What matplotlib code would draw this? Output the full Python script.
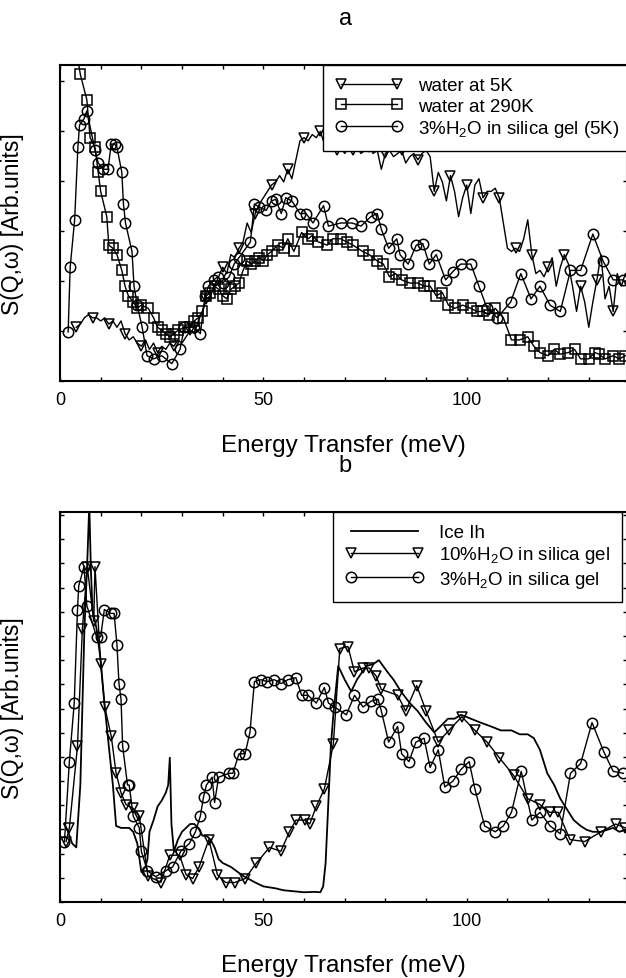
import matplotlib
matplotlib.use('Agg')
import matplotlib.pyplot as plt
from matplotlib.ticker import MultipleLocator, NullFormatter

plt.rcParams['font.family'] = ['Liberation Sans', 'DejaVu Sans']
plt.rcParams['mathtext.fontset'] = 'custom'
plt.rcParams['mathtext.rm'] = 'Liberation Sans'
plt.rcParams['mathtext.it'] = 'Liberation Sans:italic'

# ---- panel a data (arbitrary units, 0 = bottom of axes, 1 = top) ----
w5_E = list(range(4, 141))
w5_S = [0.17, 0.18, 0.20, 0.21, 0.20, 0.20, 0.19, 0.20, 0.18, 0.19, 0.17, 0.19, 0.15, 0.13,
        0.14, 0.12, 0.11, 0.13, 0.10, 0.12, 0.09, 0.11, 0.10, 0.12, 0.11, 0.13, 0.12, 0.14,
        0.16, 0.15, 0.19, 0.22, 0.26, 0.27, 0.30, 0.33, 0.36, 0.34, 0.40, 0.39, 0.42, 0.44,
        0.50, 0.47, 0.53, 0.56, 0.58, 0.60, 0.62, 0.63, 0.65, 0.63, 0.67, 0.64, 0.70, 0.76,
        0.77, 0.76, 0.78, 0.77, 0.79, 0.75, 0.74, 0.75, 0.73, 0.74, 0.72, 0.74, 0.73, 0.74,
        0.72, 0.73, 0.74, 0.72, 0.73, 0.67, 0.72, 0.73, 0.71, 0.72, 0.73, 0.69, 0.71, 0.72,
        0.70, 0.72, 0.73, 0.71, 0.60, 0.66, 0.63, 0.57, 0.65, 0.60, 0.52, 0.58, 0.62, 0.53,
        0.62, 0.64, 0.58, 0.60, 0.60, 0.61, 0.58, 0.50, 0.42, 0.41, 0.42, 0.41, 0.45, 0.51,
        0.40, 0.34, 0.35, 0.33, 0.36, 0.39, 0.30, 0.36, 0.40, 0.37, 0.30, 0.22, 0.30, 0.25,
        0.17, 0.25, 0.32, 0.40, 0.26, 0.30, 0.22, 0.34, 0.30, 0.34, 0.30]

w290_E = [4, 5, 6.6, 7.4, 8.6, 9.4, 10, 11.5, 12, 13, 14, 15.2, 16, 16.8, 18, 19, 20, 21.7,
          23, 24, 25, 26, 27, 28, 29, 30.6, 32, 33, 34, 35, 36, 37, 38, 39, 40, 41, 42, 43,
          44, 45, 46, 47, 48, 49, 50, 51, 52, 53.5, 55, 56, 57.5, 59.4, 61, 62, 63.5, 65.7,
          67, 69, 70.5, 72, 74.4, 76, 78, 79.5, 81, 82.5, 84, 86, 88, 89.5, 91, 92.5, 94,
          95.5, 97, 99, 101, 102.5, 104, 105.5, 107, 109, 111, 113, 115, 116.5, 118, 120,
          121.5, 123, 125, 126.5, 128, 130, 131.5, 132.5, 134, 136, 137.5, 139]
w290_S = [1.05, 0.97, 0.89, 0.77, 0.74, 0.66, 0.60, 0.52, 0.43, 0.42, 0.40, 0.35, 0.30, 0.27,
          0.25, 0.23, 0.24, 0.23, 0.20, 0.17, 0.16, 0.15, 0.14, 0.15, 0.16, 0.17, 0.17, 0.19,
          0.20, 0.22, 0.27, 0.28, 0.30, 0.29, 0.27, 0.26, 0.29, 0.30, 0.31, 0.35, 0.38, 0.37,
          0.38, 0.39, 0.38, 0.40, 0.41, 0.43, 0.42, 0.45, 0.41, 0.47, 0.45, 0.46, 0.44, 0.43,
          0.45, 0.45, 0.44, 0.43, 0.41, 0.40, 0.38, 0.37, 0.33, 0.34, 0.32, 0.31, 0.31, 0.30,
          0.30, 0.27, 0.28, 0.24, 0.23, 0.24, 0.23, 0.22, 0.22, 0.21, 0.23, 0.20, 0.13, 0.13,
          0.14, 0.11, 0.09, 0.08, 0.10, 0.085, 0.09, 0.10, 0.07, 0.07, 0.09, 0.085, 0.07, 0.08,
          0.07, 0.08]

sg5_E = [2, 2.5, 3.6, 4.4, 4.8, 5.9, 6.6, 8.6, 9.4, 10.6, 11.8, 12.6, 13.4, 14, 15.2, 15.6,
         16.1, 17.7, 18.2, 19, 20.2, 21.4, 23, 25, 27.5, 29.5, 30.6, 33, 34.5, 35.7, 36.5,
         37.8, 38.8, 40, 41.6, 42.8, 44, 46.8, 47.8, 49, 50.7, 52, 53, 54.4, 55.5, 57, 59,
         60.5, 62.2, 64.8, 66, 69, 71.8, 74, 76.4, 78, 79, 80.8, 82.8, 83.6, 85.6, 87.6,
         89.2, 90.8, 92.5, 94.8, 96.5, 98.5, 101, 103, 105, 107.5, 110.8, 113.3, 115.8, 118,
         120.5, 123, 125.5, 128, 131, 133.5, 136, 138.5]
sg5_S = [0.155, 0.36, 0.51, 0.74, 0.81, 0.83, 0.855, 0.73, 0.69, 0.67, 0.67, 0.75, 0.75, 0.74,
         0.66, 0.56, 0.50, 0.41, 0.30, 0.24, 0.17, 0.08, 0.07, 0.08, 0.055, 0.10, 0.17, 0.17,
         0.15, 0.27, 0.30, 0.32, 0.33, 0.31, 0.33, 0.37, 0.39, 0.44, 0.56, 0.55, 0.54, 0.57,
         0.575, 0.53, 0.58, 0.57, 0.53, 0.53, 0.50, 0.555, 0.49, 0.50, 0.50, 0.49, 0.52, 0.53,
         0.48, 0.42, 0.45, 0.40, 0.37, 0.43, 0.435, 0.37, 0.40, 0.32, 0.345, 0.37, 0.37, 0.30,
         0.23, 0.20, 0.25, 0.34, 0.26, 0.30, 0.24, 0.22, 0.35, 0.35, 0.465, 0.38, 0.32, 0.32]

# ---- panel b data ----
ice_E = [1, 2, 3, 4, 5, 5.5, 6, 6.5, 6.8, 7.2, 7.6, 8, 9, 10, 11, 12, 13, 13.8, 15, 16, 17,
         18, 19, 20, 21, 21.5, 22, 23, 24, 25, 26, 26.6, 27, 27.4, 28, 29, 30, 31, 32, 33,
         34, 35, 36, 37, 38, 39, 40, 42, 45, 48, 50, 53, 55, 58, 60, 62.6, 64, 64.7, 65.3,
         66, 66.6, 67.2, 68.4, 70, 71.6, 73, 75.3, 77, 78.4, 80.5, 82, 83.8, 86, 87.9, 90,
         92, 93.5, 95.4, 97, 98.6, 101, 103.4, 106, 108.4, 111, 113, 115, 116.5, 118, 119.8,
         121.5, 123, 124.5, 126.3, 128, 129.5, 131, 133, 134.5, 136, 137.5, 139]
ice_S = [0.20, 0.18, 0.15, 0.14, 0.30, 0.50, 0.70, 0.82, 0.90, 1.02, 0.85, 0.75, 0.70, 0.62,
         0.50, 0.40, 0.30, 0.195, 0.19, 0.19, 0.19, 0.18, 0.15, 0.077, 0.09, 0.11, 0.18, 0.21,
         0.245, 0.26, 0.28, 0.30, 0.37, 0.20, 0.13, 0.16, 0.18, 0.19, 0.20, 0.20, 0.19, 0.17,
         0.17, 0.16, 0.14, 0.11, 0.10, 0.09, 0.067, 0.05, 0.04, 0.035, 0.03, 0.027, 0.025,
         0.026, 0.025, 0.04, 0.10, 0.26, 0.40, 0.48, 0.605, 0.57, 0.54, 0.57, 0.605, 0.61,
         0.62, 0.59, 0.57, 0.54, 0.51, 0.49, 0.46, 0.435, 0.45, 0.47, 0.47, 0.48, 0.47, 0.46,
         0.45, 0.44, 0.44, 0.43, 0.43, 0.42, 0.39, 0.33, 0.30, 0.265, 0.24, 0.21, 0.195,
         0.185, 0.18, 0.18, 0.185, 0.19, 0.18, 0.185]

sg10_E = [1.5, 2.3, 4.3, 5.5, 6.7, 8.3, 8.6, 10, 11, 12.6, 13.8, 15, 16.2, 18, 19.5, 21.6,
          24.8, 27, 29.4, 31, 32.6, 34.2, 36.6, 38.7, 40.7, 43, 45.5, 48.3, 51.5, 54.3, 56.4,
          58, 60.2, 61.4, 63, 65, 67.2, 68.8, 70.8, 72.4, 74.5, 76, 77.7, 79, 83, 85, 87.7,
          90, 93, 95.6, 98.8, 102, 105, 108, 111.5, 115, 118, 120.4, 122.5, 125.4, 129, 133,
          136.6, 139]
sg10_S = [0.155, 0.19, 0.40, 0.70, 0.86, 0.72, 0.86, 0.61, 0.50, 0.425, 0.33, 0.28, 0.25,
          0.24, 0.22, 0.067, 0.05, 0.12, 0.12, 0.07, 0.06, 0.09, 0.16, 0.07, 0.05, 0.05,
          0.06, 0.10, 0.14, 0.13, 0.18, 0.21, 0.21, 0.20, 0.245, 0.29, 0.405, 0.65, 0.655,
          0.59, 0.60, 0.60, 0.58, 0.545, 0.53, 0.49, 0.555, 0.49, 0.41, 0.44, 0.475, 0.44,
          0.41, 0.37, 0.325, 0.265, 0.25, 0.23, 0.23, 0.16, 0.155, 0.18, 0.20, 0.19]

sg3_E = [1.1, 2.3, 3.5, 4.3, 4.6, 5.9, 6.6, 9, 10, 10.9, 12.5, 13.3, 14, 14.5, 15, 15.4,
         16.6, 17, 18, 19.5, 20, 21.5, 23.5, 26, 27.7, 29.7, 31.8, 33.3, 34.5, 35.3, 36,
         37.4, 38, 39, 41.5, 42.5, 44, 45.5, 46.7, 47.8, 49.4, 51, 52.7, 54.4, 56, 58, 59.4,
         61, 63, 65, 66, 67.5, 70.4, 72.4, 74.5, 76.5, 78.2, 79, 80.8, 83, 84, 85.8, 87.5,
         89.5, 91, 93, 94.6, 96.6, 98.6, 100.6, 102, 104.4, 107, 109, 111, 113.4, 116, 118,
         120.5, 123, 125.5, 128, 130.8, 133.7, 136, 138.5]
sg3_S = [0.155, 0.36, 0.51, 0.75, 0.81, 0.86, 0.76, 0.68, 0.68, 0.75, 0.74, 0.74, 0.66, 0.56,
         0.52, 0.40, 0.30, 0.30, 0.22, 0.19, 0.13, 0.08, 0.065, 0.08, 0.09, 0.13, 0.15, 0.18,
         0.22, 0.27, 0.30, 0.32, 0.255, 0.32, 0.33, 0.33, 0.38, 0.38, 0.435, 0.565, 0.57,
         0.565, 0.57, 0.56, 0.57, 0.575, 0.53, 0.53, 0.51, 0.55, 0.51, 0.50, 0.48, 0.53,
         0.50, 0.515, 0.52, 0.49, 0.41, 0.45, 0.38, 0.36, 0.41, 0.42, 0.345, 0.39, 0.295,
         0.31, 0.34, 0.36, 0.29, 0.195, 0.18, 0.195, 0.23, 0.335, 0.21, 0.23, 0.195, 0.175,
         0.33, 0.355, 0.46, 0.385, 0.335, 0.33]

W, H = 626, 979
L, R = 60, 627
fig = plt.figure(figsize=(W / 100, H / 100), dpi=100)


def make_axes(top, bottom, ytick):
    ax = fig.add_axes([L / W, 1 - bottom / H, (R - L) / W, (bottom - top) / H])
    ax.set_xlim(0, 139.4)
    ax.set_ylim(0, 1)
    ax.xaxis.set_major_locator(MultipleLocator(50))
    ax.xaxis.set_minor_locator(MultipleLocator(10))
    ax.yaxis.set_major_locator(MultipleLocator(ytick))
    ax.yaxis.set_major_formatter(NullFormatter())
    ax.tick_params(direction='in', top=True, right=True, length=3, width=1,
                   labelsize=13, pad=7)
    ax.tick_params(which='minor', direction='in', top=True, length=3, width=1)
    for s in ax.spines.values():
        s.set_linewidth(1.5)
    ax.set_ylabel('S(Q,ω) [Arb.units]', fontsize=16.5)
    ax.yaxis.set_label_coords(-(L - 24) / (R - L), 0.5)
    return ax


def add_legend(ax, left_px, hlen):
    leg = ax.legend(loc='upper left', bbox_to_anchor=((left_px - L) / (R - L), 1.0),
                    borderaxespad=0, fontsize=13.5, numpoints=2, handlelength=hlen,
                    handletextpad=0.8, borderpad=0.65, labelspacing=0.17,
                    fancybox=False, framealpha=1, edgecolor='black')
    leg.get_frame().set_linewidth(1)
    return leg


mk = dict(color='black', lw=1, mfc='none', mec='black', mew=1.1, ms=7.5)

# panel a
ax1 = make_axes(66, 382, 0.158)
ax1.plot(w5_E, w5_S, marker='v', markevery=4, label='water at 5K', **mk)
ax1.plot(w290_E, w290_S, marker='s', label='water at 290K', **mk)
ax1.plot(sg5_E, sg5_S, marker='o', label='3%H$_2$O in silica gel (5K)', **mk)
add_legend(ax1, 323, 3.6)

# panel b
ax2 = make_axes(513, 903, 0.062)
ax2.plot(ice_E, ice_S, color='black', lw=1.3, label='Ice Ih')
ax2.plot(sg10_E, sg10_S, marker='v', label='10%H$_2$O in silica gel', **mk)
ax2.plot(sg3_E, sg3_S, marker='o', label='3%H$_2$O in silica gel', **mk)
add_legend(ax2, 333, 4.2)

# panel letters and x labels
fig.text(346 / W, 1 - 25 / H, 'a', fontsize=17, ha='center', va='baseline')
fig.text(345 / W, 1 - 472 / H, 'b', fontsize=17, ha='center', va='baseline')
fig.text(343 / W, 1 - 452 / H, 'Energy Transfer (meV)', fontsize=17.5, ha='center', va='baseline')
fig.text(343 / W, 1 - 972 / H, 'Energy Transfer (meV)', fontsize=17.5, ha='center', va='baseline')

fig.savefig('out.png', dpi=100)
